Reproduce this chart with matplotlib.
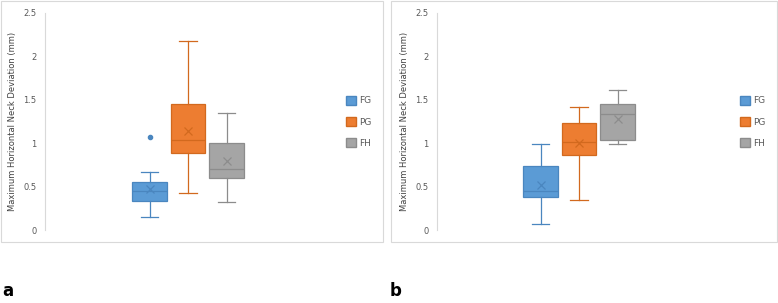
import matplotlib
matplotlib.use('Agg')
import matplotlib.pyplot as plt
from matplotlib.patches import Rectangle, Patch

groups = ['FG', 'PG', 'FH']
colors = ['#5B9BD5', '#ED7D31', '#A5A5A5']
edges = ['#4A86BF', '#D2691E', '#8C8C8C']

# panel a: low whisker, q1, median, q3, high whisker, mean
a_low = [0.15, 0.43, 0.32]
a_q1 = [0.33, 0.89, 0.60]
a_med = [0.45, 1.04, 0.70]
a_q3 = [0.55, 1.45, 1.00]
a_high = [0.67, 2.17, 1.35]
a_mean = [0.47, 1.14, 0.79]
a_fliers = [[1.07], [], []]

# panel b
b_low = [0.07, 0.34, 0.99]
b_q1 = [0.38, 0.86, 1.04]
b_med = [0.45, 1.01, 1.33]
b_q3 = [0.74, 1.23, 1.45]
b_high = [0.99, 1.41, 1.61]
b_mean = [0.52, 1.00, 1.28]
b_fliers = [[], [], []]

ylabel = 'Maximum Horizontal Neck Deviation (mm)'

fig = plt.figure(figsize=(7.78, 3.03), dpi=100)
W, H = 778.0, 303.0

# panel frames
for x0, x1 in [(0.5, 383), (391, 777)]:
    fig.patches.append(Rectangle((x0 / W, 1 - 242 / H), (x1 - x0) / W, 242 / H - 0.002,
                                 transform=fig.transFigure, fill=False,
                                 edgecolor='#D9D9D9', linewidth=0.8))


def draw(left, right, low, q1, med, q3, high, mean, fliers, leg_x):
    ax = fig.add_axes([left / W, 1 - 230 / H, (right - left) / W, (230 - 12.7) / H])
    stats = []
    for i in range(3):
        stats.append(dict(whislo=low[i], q1=q1[i], med=med[i], q3=q3[i],
                          whishi=high[i], mean=mean[i], fliers=fliers[i]))
    for i in range(3):
        ax.bxp([stats[i]], positions=[i + 1], widths=0.9, patch_artist=True,
               showmeans=True, showfliers=True,
               boxprops=dict(facecolor=colors[i], edgecolor=edges[i], linewidth=0.9),
               medianprops=dict(color=edges[i], linewidth=0.9),
               whiskerprops=dict(color=edges[i], linewidth=0.9),
               capprops=dict(color=edges[i], linewidth=0.9),
               capwidths=0.45,
               meanprops=dict(marker='x', markeredgecolor=edges[i], markersize=6,
                              markeredgewidth=0.9),
               flierprops=dict(marker='o', markerfacecolor=edges[i],
                               markeredgecolor=edges[i], markersize=3))
    half = (right - left) / 2 / 38.5
    ax.set_xlim(2 - half, 2 + half)
    ax.set_ylim(0, 2.5)
    ax.set_yticks([0, 0.5, 1, 1.5, 2, 2.5])
    ax.set_yticklabels(['0', '0.5', '1', '1.5', '2', '2.5'])
    ax.tick_params(axis='y', labelsize=6, colors='#595959', length=0, pad=6)
    ax.set_xticks([])
    for s in ['top', 'right', 'bottom']:
        ax.spines[s].set_visible(False)
    ax.spines['left'].set_color('#D9D9D9')
    ax.spines['left'].set_linewidth(0.8)
    ax.patch.set_alpha(0)
    ax.set_ylabel(ylabel, fontsize=6, color='#404040', labelpad=5)
    handles = [Patch(facecolor=colors[i], edgecolor=edges[i], label=groups[i]) for i in range(3)]
    fig.legend(handles=handles, loc='upper left',
               bbox_to_anchor=(leg_x / W, 1 - 96 / H), frameon=False,
               fontsize=6.5, labelcolor='#595959', handlelength=1.1, handleheight=1.1,
               handletextpad=0.4, labelspacing=1.3, borderpad=0, borderaxespad=0)
    return ax


draw(45, 331, a_low, a_q1, a_med, a_q3, a_high, a_mean, a_fliers, 346)
draw(437, 721, b_low, b_q1, b_med, b_q3, b_high, b_mean, b_fliers, 740)

fig.text(2 / W, 1 - 300 / H, 'a', fontsize=12, fontweight='bold', va='bottom', ha='left')
fig.text(390 / W, 1 - 300 / H, 'b', fontsize=12, fontweight='bold', va='bottom', ha='left')

fig.savefig('out.png', dpi=100)
